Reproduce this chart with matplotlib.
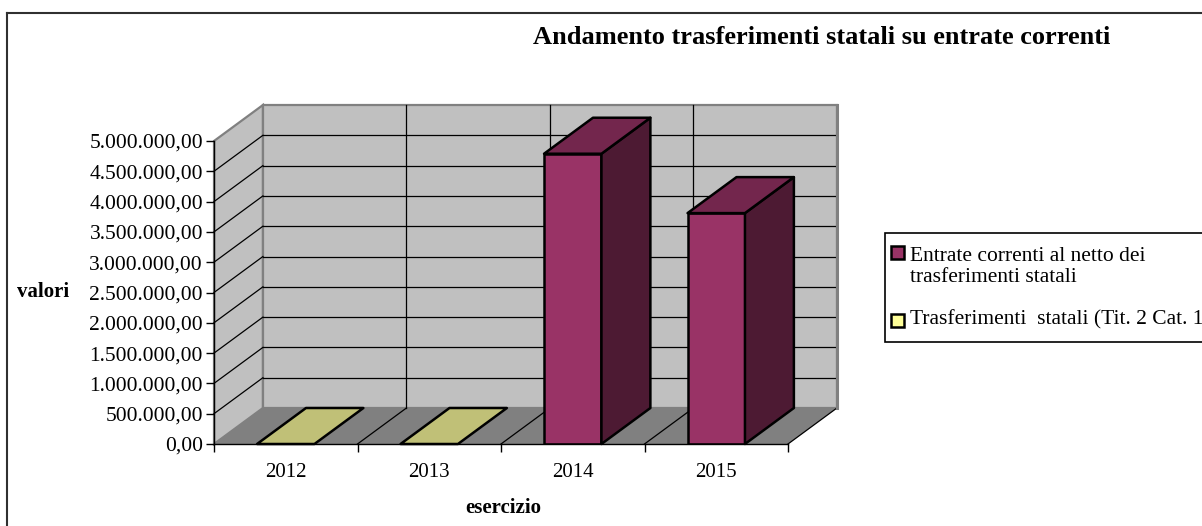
import matplotlib
matplotlib.use('agg')
import matplotlib.pyplot as plt
from matplotlib.patches import Polygon, Rectangle
from matplotlib.ticker import FuncFormatter, MultipleLocator
from matplotlib.lines import Line2D

plt.rcParams['font.family'] = ['Liberation Serif', 'DejaVu Serif']

# data
anni = ['2012', '2013', '2014', '2015']
entrate_nette = [None, None, 4790000, 3810000]      # Entrate correnti al netto dei trasferimenti statali
trasferimenti = [0, 0, None, None]                  # Trasferimenti statali (Tit. 2 Cat. 1)
titolo = 'Andamento trasferimenti statali su entrate correnti'
nomi_serie = ['Entrate correnti al netto dei\ntrasferimenti statali',
              'Trasferimenti  statali (Tit. 2 Cat. 1)']

# colori stile excel 3d
viola = ('#993366', '#73264d', '#4d1a33')   # fronte, sopra, lato
giallo = ('#ffff99', '#c0c077', '#80804d')
W, H = 1202, 526
ymax = 5000000
dx = 0.341        # profondita' in unita' categoria
dy = 594000       # profondita' in unita' valore
bw = 0.40

def fx(px):
    return px / W

def fy(py):
    return 1 - py / H

fig = plt.figure(figsize=(W / 100, H / 100), dpi=100)
ax = fig.add_axes([fx(214), fy(444), fx(788) - fx(214), (444 - 141) / H])
ax.set_xlim(-0.5, len(anni) - 0.5)
ax.set_ylim(0, ymax)
ax.patch.set_visible(False)
for s in ['top', 'right']:
    ax.spines[s].set_visible(False)
ax.spines['left'].set_color('black')
ax.spines['bottom'].set_color('black')
ax.spines['left'].set_linewidth(1.0)
ax.spines['bottom'].set_linewidth(1.0)
ax.spines['left'].set_zorder(10)
ax.spines['bottom'].set_zorder(10)

x0, x1 = -0.5, len(anni) - 0.5
grigio = '#c0c0c0'
bordo = '#808080'

# pareti e pavimento
ax.add_patch(Polygon([(x0, 0), (x0, ymax), (x0 + dx, ymax + dy), (x0 + dx, dy)],
                     closed=True, facecolor=grigio, edgecolor=bordo, lw=1.6, clip_on=False, zorder=1))
ax.add_patch(Polygon([(x0 + dx, dy), (x1 + dx, dy), (x1 + dx, ymax + dy), (x0 + dx, ymax + dy)],
                     closed=True, facecolor=grigio, edgecolor=bordo, lw=1.6, clip_on=False, zorder=1))
ax.add_patch(Polygon([(x0, 0), (x1, 0), (x1 + dx, dy), (x0 + dx, dy)],
                     closed=True, facecolor='#808080', edgecolor='none', clip_on=False, zorder=1))

# griglia
valori_tick = list(range(0, ymax + 1, 500000))
for v in valori_tick[1:-1]:
    ax.plot([x0 + dx, x1 + dx], [v + dy, v + dy], color='black', lw=0.9, clip_on=False, zorder=2)
    ax.plot([x0, x0 + dx], [v, v + dy], color='black', lw=0.9, clip_on=False, zorder=2)
for k in range(1, len(anni)):
    xb = k - 0.5
    ax.plot([xb + dx, xb + dx], [dy, ymax + dy], color='black', lw=0.9, clip_on=False, zorder=2)
    ax.plot([xb, xb + dx], [0, dy], color='black', lw=0.9, clip_on=False, zorder=2)
ax.plot([x1, x1 + dx], [0, dy], color='black', lw=0.9, clip_on=False, zorder=2)
ax.plot([x1 + dx, x1 + dx], [dy, ymax + dy], color=bordo, lw=2.2, clip_on=False, zorder=2)


def barra3d(x, base, alt, colori):
    c_front, c_top, c_side = colori
    l, r = x - bw / 2, x + bw / 2
    top = base + alt
    kw = dict(edgecolor='black', lw=1.8, joinstyle='round', clip_on=False, zorder=5)
    if alt > 0:
        ax.bar(x, alt, bw, bottom=base, color=c_front, edgecolor='black', lw=1.8, zorder=5)
        ax.add_patch(Polygon([(r, base), (r + dx, base + dy), (r + dx, top + dy), (r, top)],
                             closed=True, facecolor=c_side, **kw))
    ax.add_patch(Polygon([(l, top), (r, top), (r + dx, top + dy), (l + dx, top + dy)],
                         closed=True, facecolor=c_top, **kw))


for i, a in enumerate(anni):
    base = 0
    if entrate_nette[i] is not None:
        barra3d(i, base, entrate_nette[i], viola)
        base += entrate_nette[i]
    if trasferimenti[i] is not None:
        barra3d(i, base, trasferimenti[i], giallo)

# assi
ax.yaxis.set_major_locator(MultipleLocator(500000))
ax.yaxis.set_major_formatter(FuncFormatter(
    lambda v, p: f'{v:,.2f}'.replace(',', 'X').replace('.', ',').replace('X', '.')))
ax.set_xticks(range(len(anni)))
ax.set_xticklabels(anni)
ax.set_xticks([k - 0.5 for k in range(len(anni) + 1)], minor=True)
ax.tick_params(axis='x', which='major', length=0, labelsize=15, pad=14)
ax.tick_params(axis='x', which='minor', length=6, width=1.0, direction='out')
ax.tick_params(axis='y', length=6, width=1.0, direction='out', labelsize=15.5, pad=2)

fig.text(fx(43), fy(292), 'valori', fontsize=15, fontweight='bold', ha='center', va='center')
fig.text(fx(503), fy(508), 'esercizio', fontsize=15, fontweight='bold', ha='center', va='center')
fig.text(fx(822), fy(37), titolo, fontsize=19, fontweight='bold', ha='center', va='center')

# cornice del grafico
fig.add_artist(Line2D([fx(7), 1.02], [fy(13), fy(13)], color='#303030', lw=1.5))
fig.add_artist(Line2D([fx(7), fx(7)], [fy(13), -0.02], color='#303030', lw=1.5))

# legenda
fig.add_artist(Rectangle((fx(885), fy(342)), fx(400), (342 - 233) / H, transform=fig.transFigure,
                         facecolor='white', edgecolor='black', lw=1.2))
fig.add_artist(Rectangle((fx(891), fy(259)), fx(13), 13 / H, transform=fig.transFigure,
                         facecolor=viola[0], edgecolor='black', lw=1.8))
fig.text(fx(910), fy(267), nomi_serie[0], fontsize=15.5, ha='left', va='center',
         linespacing=1.15)
fig.add_artist(Rectangle((fx(891), fy(327)), fx(13), 13 / H, transform=fig.transFigure,
                         facecolor=giallo[0], edgecolor='black', lw=1.8))
fig.text(fx(910), fy(320), nomi_serie[1], fontsize=15.5, ha='left', va='center')

fig.savefig('out.png', dpi=100)
